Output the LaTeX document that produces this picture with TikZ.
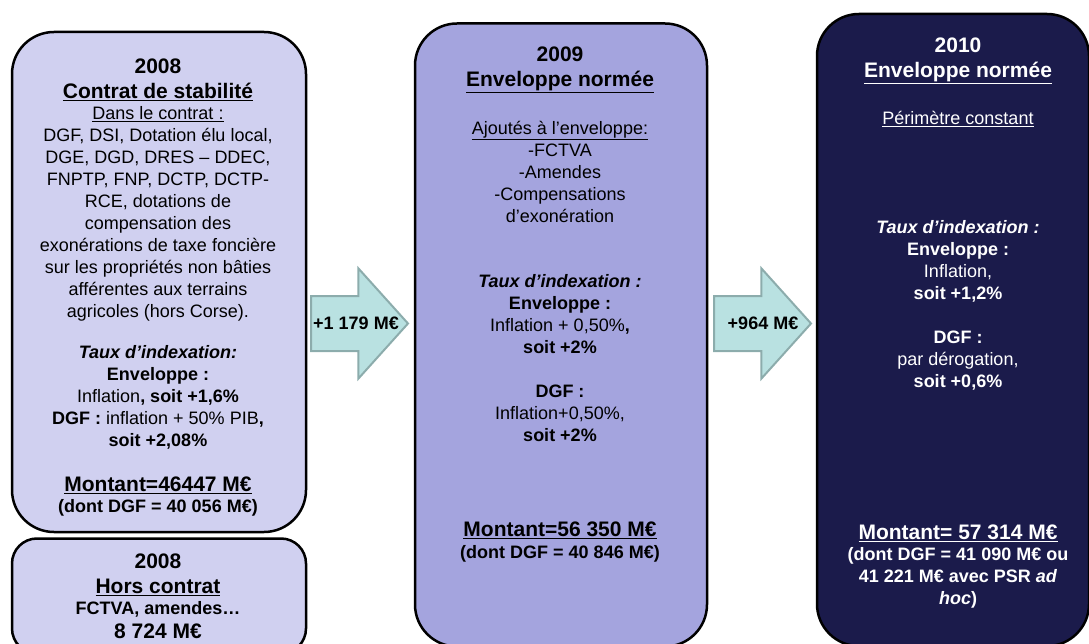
\documentclass[tikz,border=0pt]{standalone}
\usepackage{fontspec}
\setmainfont{Liberation Sans}
\usetikzlibrary{shapes.arrows}
\definecolor{lavclair}{RGB}{208,208,240}
\definecolor{lavmoyen}{RGB}{164,164,222}
\definecolor{marine}{RGB}{27,27,75}
\definecolor{turquoise}{RGB}{185,225,225}
\definecolor{turqgris}{RGB}{140,172,172}
\newcommand{\corps}{\fontsize{18}{22}\selectfont}
\newcommand{\grand}{\fontsize{21}{25}\selectfont}

\begin{document}
\begin{tikzpicture}[
  x=1pt, y=-1pt,
  cadre/.style={rectangle, draw=black, line width=2.5pt, rounded corners=42pt,
               inner sep=0pt},
  titre/.style={align=center, font=\bfseries\grand, inner sep=0pt},
  texte/.style={align=center, font=\corps, inner sep=0pt},
  gras/.style={align=center, font=\bfseries\corps, inner sep=0pt},
  fleche/.style={single arrow, draw=turqgris, line width=2pt, fill=turquoise,
               minimum height=97pt, inner xsep=0pt, inner ysep=26.5pt,
               single arrow head extend=27.5pt, single arrow tip angle=96,
               anchor=tail}
]
  \useasboundingbox (0,0) rectangle (1089,644);

  % les cadres
  \node[cadre, fill=lavclair, minimum width=294pt, minimum height=500pt] (contrat08) at (159,282) {};
  \node[cadre, fill=lavclair, rounded corners=25pt, minimum width=294pt, minimum height=115pt] (hors08) at (159,596) {};
  \node[cadre, fill=lavmoyen, minimum width=292pt, minimum height=623pt] (norme09) at (561,335) {};
  \node[cadre, fill=marine, minimum width=272pt, minimum height=632pt] (norme10) at (953,330) {};

  % les fleches
  \node[fleche] (plus1) at (310,323.5) {};
  \node[fleche] (plus2) at (713,323.5) {};
  \node[gras] (lab1) at (356,323) {+1 179 M€};
  \node[gras] (lab2) at (763,323) {+964 M€};

  % 2008 contrat
  \node[titre] (an08) at (158,80) {2008\\\underline{Contrat de stabilité}};
  \node[texte] (liste08) at (158,213.5) {\underline{Dans le contrat :}\\DGF, DSI, Dotation élu local,\\DGE, DGD, DRES – DDEC,\\FNPTP, FNP, DCTP, DCTP-\\RCE, dotations de\\compensation des\\exonérations de taxe foncière\\sur les propriétés non bâties\\afférentes aux terrains\\agricoles (hors Corse).};
  \node[texte] (taux08) at (158,397) {\textbf{\textit{Taux d’indexation:}}\\\textbf{Enveloppe :}\\Inflation\textbf{, soit +1,6\%}\\\textbf{DGF :} inflation + 50\% PIB\textbf{,}\\\textbf{soit +2,08\%}};
  \node[titre] (mt08) at (158,485) {\underline{Montant=46447 M€}};
  \node[gras] (dont08) at (158,508) {(dont DGF = 40 056 M€)};

  % 2008 hors contrat
  \node[titre] (an08h) at (158,575) {2008\\\underline{Hors contrat}};
  \node[gras] (fctva08) at (158,609) {FCTVA, amendes…};
  \node[titre] (mt08h) at (158,631) {8 724 M€};

  % 2009
  \node[titre] (an09) at (560,69.5) {2009\\\underline{Enveloppe normée}};
  \node[texte] (ajout09) at (560,172) {\underline{Ajoutés à l’enveloppe:}\\-FCTVA\\-Amendes\\-Compensations\\d’exonération};
  \node[texte] (taux09) at (560,358) {\textbf{\textit{Taux d’indexation :}}\\\textbf{Enveloppe :}\\Inflation + 0,50\%\textbf{,}\\\textbf{soit +2\%}\\[22pt]\textbf{DGF :}\\Inflation+0,50\%,\\\textbf{soit +2\%}};
  \node[titre] (mt09) at (560,530) {\underline{Montant=56 350 M€}};
  \node[gras] (dont09) at (560,554) {(dont DGF = 40 846 M€)};

  % 2010
  \node[titre, text=white] (an10) at (958,60.5) {2010\\\underline{Enveloppe normée}};
  \node[texte, text=white] (perim10) at (958,119) {\underline{Périmètre constant}};
  \node[texte, text=white] (taux10) at (958,305.5) {\textbf{\textit{Taux d’indexation :}}\\\textbf{Enveloppe :}\\Inflation,\\\textbf{soit +1,2\%}\\[22pt]\textbf{DGF :}\\par dérogation,\\\textbf{soit +0,6\%}};
  \node[titre, text=white] (mt10) at (958,533) {\underline{Montant= 57 314 M€}};
  \node[gras, text=white] (dont10) at (958,578) {(dont DGF = 41 090 M€ ou\\41 221 M€ avec PSR \textit{ad}\\\textit{hoc})};
\end{tikzpicture}
\end{document}
